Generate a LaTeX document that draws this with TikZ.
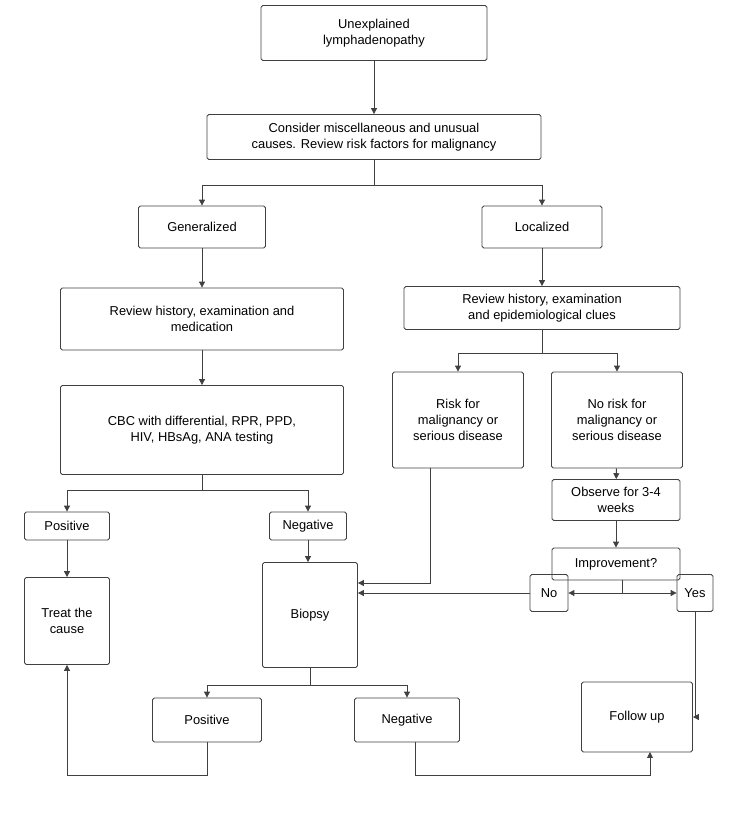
\documentclass[tikz,border=0pt]{standalone}
\usepackage{fontspec}
\setmainfont{Liberation Sans}
\usetikzlibrary{arrows.meta}
\begin{document}
\begin{tikzpicture}[x=0.03cm,y=-0.03cm,
 box/.style={draw=black!75,line width=0.7pt,rounded corners=1.5pt,align=center,inner sep=1pt,font=\fontsize{11}{13.5}\selectfont},
 ar/.style={-{Triangle[length=5pt,width=5pt]},draw=black!75,line width=0.7pt},
 ln/.style={draw=black!75,line width=0.7pt}]
\useasboundingbox (0,0) rectangle (750,814);
\newcommand{\bx}[6]{\node[box,minimum width=#4*0.03cm,minimum height=#5*0.03cm] (#1) at (#2,#3) {#6};}
\bx{a}{374}{33}{226}{55}{Unexplained\\lymphadenopathy}
\bx{b}{374}{137}{334}{45}{Consider miscellaneous and unusual\\causes. Review risk factors for malignancy}
\bx{gen}{202}{227}{127}{42}{Generalized}
\bx{loc}{542}{227}{120}{42}{Localized}
\bx{rg}{202}{319}{283}{62}{Review history, examination and\\medication}
\bx{rl}{542}{308}{276}{43}{Review history, examination\\and epidemiological clues}
\bx{cbc}{202}{430}{283}{89}{CBC with differential, RPR, PPD,\\HIV, HBsAg, ANA testing}
\bx{risk}{458}{420}{131}{96}{Risk for\\malignancy or\\serious disease}
\bx{nor}{617}{420}{131}{96}{No risk for\\malignancy or\\serious disease}
\bx{pos}{67}{526}{85}{28}{Positive}
\bx{neg}{308}{526}{77}{28}{Negative}
\bx{obs}{616}{500}{128}{41}{Observe for 3-4\\weeks}
\bx{imp}{616}{564}{128}{32}{Improvement?}
\bx{tr}{67}{621}{85}{87}{Treat the\\cause}
\bx{bio}{310}{615}{95}{105}{Biopsy}
\bx{no}{549}{593}{38}{37}{No}
\bx{yes}{695}{593}{36}{37}{Yes}
\bx{pb}{207}{720}{109}{44}{Positive}
\bx{nb}{407}{720}{105}{44}{Negative}
\bx{fu}{637}{717}{111}{70}{Follow up}
\draw[ar] (a) -- (b);
\draw[ln] (b.south) -- (374,185) coordinate (j1);
\draw[ar] (j1) -| (gen.north);
\draw[ar] (j1) -| (loc.north);
\draw[ar] (gen) -- (rg);
\draw[ar] (rg) -- (cbc);
\draw[ar] (loc) -- (rl);
\draw[ln] (rl.south) -- (542,353) coordinate (j2);
\draw[ar] (j2) -| (risk.north);
\draw[ar] (j2) -| (nor.north);
\draw[ln] (cbc.south) -- (202,490) coordinate (j3);
\draw[ar] (j3) -| (pos.north);
\draw[ar] (j3) -| (neg.north);
\draw[ar] (pos) -- (tr);
\draw[ar] (neg.south) -- (neg.south |- bio.north);
\draw[ar] (nor) -- (obs);
\draw[ar] (obs) -- (imp);
\draw[ar] (430,468) -- (430,583) -- (bio.east |- 0,583);
\draw[ln] (622,580) -- (622,593) coordinate (j4);
\draw[ar] (j4) -- (no.east);
\draw[ar] (j4) -- (yes.west);
\draw[ar] (no.west) -- (bio.east |- no.west);
\draw[ar] (yes.south) |- (fu.east);
\draw[ln] (bio.south) -- (310,685) coordinate (j5);
\draw[ar] (j5) -| (pb.north);
\draw[ar] (j5) -| (nb.north);
\draw[ar] (pb.south) -- (207,775) -| (tr.south);
\draw[ar] (415,742) -- (415,775) -| (650,752);
\end{tikzpicture}
\end{document}
